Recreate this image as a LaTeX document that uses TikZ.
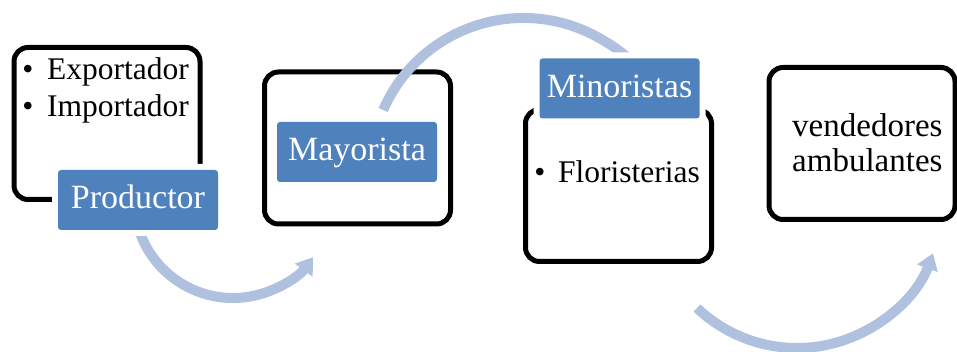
\documentclass[tikz,border=0pt]{standalone}
\usepackage{fontspec}
\setmainfont{Liberation Serif}
\usetikzlibrary{arrows.meta}
\definecolor{labelblue}{RGB}{79,129,189}
\definecolor{flowblue}{RGB}{175,193,222}

\begin{document}
\begin{tikzpicture}[x=1pt,y=-1pt,
  stagebox/.style={rectangle, draw=black, line width=5pt, fill=white,
    rounded corners=14pt, minimum width=186pt, minimum height=152pt, inner sep=0pt},
  stagelabel/.style={rectangle, fill=labelblue, rounded corners=3pt,
    minimum width=160pt, minimum height=60pt, inner sep=0pt, text=white,
    font=\fontsize{34}{40}\selectfont, text height=22pt, text depth=4pt,
    preaction={draw=white, line width=12pt}},
  itemtext/.style={anchor=base west, inner sep=0pt, font=\fontsize{31.5}{36}\selectfont},
  bulletmark/.style={anchor=base, inner sep=0pt, font=\fontsize{31.5}{36}\selectfont},
  plaintext/.style={anchor=base west, inner sep=0pt, font=\fontsize{33}{38}\selectfont},
  flow/.style={draw=flowblue, line width=10pt, -{Triangle[width=21pt,length=16pt]}}
]
\useasboundingbox (0,0) rectangle (957,352);

% stage frames
\node[stagebox] (box1) at (107,123.5) {};
\node[stagebox] (box2) at (357.5,148) {};
\node[stagebox] (box3) at (618.5,185.5) {};
\node[stagebox] (box4) at (862,143.5) {};

% curved flow arrows between stages
\coordinate (f1s) at ({233+99*cos(165)},{199+99*sin(165)});
\coordinate (f2s) at ({523.5+153*cos(203.5)},{171+153*sin(203.5)});
\coordinate (f3s) at ({797+145*cos(133.6)},{203+145*sin(133.6)});
\draw[flow] (f1s) arc[start angle=165, end angle=36, radius=99];
\draw[flow] (f2s) arc[start angle=203.5, end angle=322, radius=153];
\draw[flow] (f3s) arc[start angle=133.6, end angle=20.3, radius=145];

% stage titles
\node[stagelabel] (prod) at (138,200) {Productor};
\node[stagelabel] (mayo) at (357,152) {Mayorista};
\node[stagelabel] (mino) at (619.5,88.5) {Minoristas};

% stage contents
\node[bulletmark] (exdot) at (28,80) {\textbullet};
\node[itemtext] (ext) at (47,80) {Exportador};
\node[bulletmark] (imdot) at (28,117) {\textbullet};
\node[itemtext] (imt) at (47,117) {Importador};
\node[bulletmark] (fldot) at (540,183) {\textbullet};
\node[itemtext] (flt) at (558,183) {Floristerias};
\node[plaintext] (vend) at (792,137) {vendedores};
\node[plaintext] (ambu) at (792,172) {ambulantes};
\end{tikzpicture}
\end{document}
